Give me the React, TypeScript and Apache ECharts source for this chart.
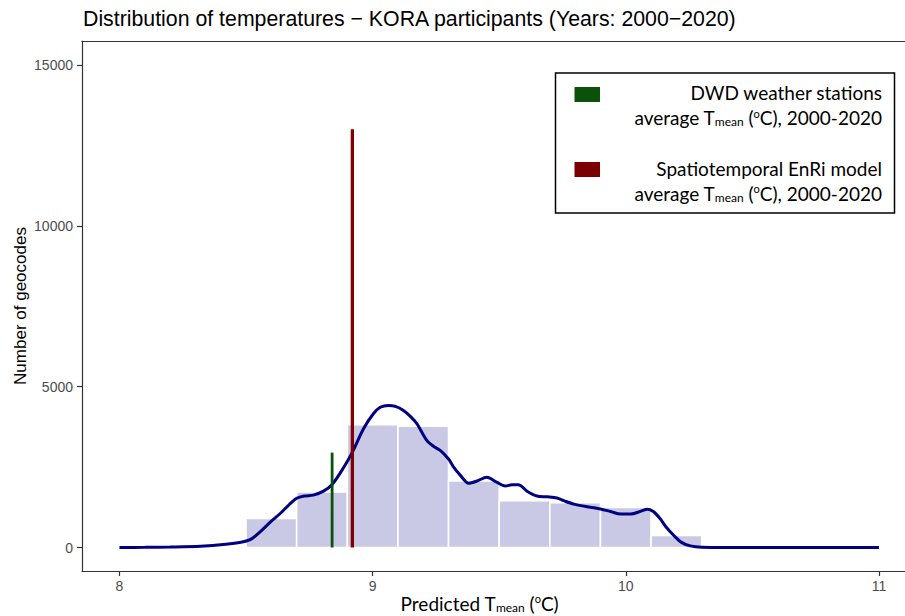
import React, { useEffect, useRef } from "react";
import * as echarts from "echarts";

// Histogram bins (lower edge, upper edge) and counts
const binStarts = [8.5, 8.7, 8.9, 9.1, 9.3, 9.5, 9.7, 9.9, 10.1];
const binWidth = 0.2;
const binCounts = [900, 1730, 3820, 3770, 2070, 1455, 1395, 1245, 375];

// Density curve (scaled to counts)
const densityX = [8.0, 8.1, 8.2, 8.32, 8.42, 8.48, 8.52, 8.56, 8.6, 8.634, 8.67, 8.7, 8.73, 8.766, 8.806, 8.84, 8.885, 8.92, 8.964, 9.003, 9.03, 9.062, 9.09, 9.122, 9.15, 9.175, 9.214, 9.24, 9.267, 9.3, 9.32, 9.346, 9.379, 9.41, 9.451, 9.49, 9.524, 9.55, 9.576, 9.61, 9.649, 9.69, 9.728, 9.76, 9.8, 9.86, 9.9, 9.94, 9.98, 10.02, 10.06, 10.085, 10.11, 10.136, 10.16, 10.189, 10.22, 10.255, 10.3, 10.4, 10.6, 10.8, 11.0];
const densityY = [0, 5, 15, 40, 100, 165, 260, 520, 820, 1050, 1330, 1530, 1600, 1630, 1752, 1960, 2479, 2965, 3692, 4159, 4360, 4418, 4390, 4262, 4070, 3848, 3329, 3150, 3018, 2750, 2500, 2250, 2000, 2060, 2187, 2030, 1910, 1950, 1955, 1750, 1600, 1575, 1540, 1440, 1340, 1254, 1200, 1120, 1040, 1040, 1130, 1190, 1110, 893, 630, 380, 160, 50, 8, 0, 0, 0, 0];

// Reference lines: [x, top]
const dwdMean = [8.84, 2950];
const enriMean = [8.92, 13000];

const xTicks = [8, 9, 10, 11];
const yTicks = [0, 5000, 10000, 15000];

const titleText = "Distribution of temperatures \u2212 KORA participants (Years: 2000\u22122020)";
const legendLabels = ["DWD weather stations", "Spatiotemporal EnRi model"];

const GREEN = "#0A520A";
const RED = "#800000";
const LEGEND_RED = "#7A0000";

export default function App() {
  const ref = useRef<HTMLDivElement>(null);
  useEffect(() => {
    if (!ref.current) return;
    const chart = echarts.init(ref.current, undefined, { renderer: "svg" });
    const xMin = 7.852, xMax = 11.103, yMin = -730, yMax = 15746;
    const richMain = { fontFamily: "Lato", fontSize: 19, lineHeight: 20, color: "#000", verticalAlign: "middle" };
    const richSub = { fontFamily: "Lato", fontSize: 12, lineHeight: 6, color: "#000", verticalAlign: "bottom" };
    const richSup = { fontFamily: "Lato", fontSize: 11, lineHeight: 10, color: "#000", verticalAlign: "top" };
    const tmeanText = "{a|average T}{s|mean}{a| (}{o|o}{a|C), 2000-2020}";
    const legendText = (text: string, y: number) => ({
      type: "text",
      x: 882,
      y,
      style: {
        text,
        rich: { a: richMain, s: richSub, o: richSup },
        align: "right",
        verticalAlign: "top",
      },
    });
    const fmt = (v: number) => String(v);
    const option: any = {
      animation: false,
      backgroundColor: "#fff",
      title: {
        text: titleText,
        left: 83,
        top: 8,
        padding: 0,
        textStyle: { fontFamily: "Liberation Sans", fontSize: 21.3, fontWeight: "normal", color: "#000" },
      },
      grid: { left: 82, right: 0, top: 41, bottom: 45, outerBoundsMode: "none", containLabel: false },
      xAxis: [
        {
          type: "value",
          min: xMin,
          max: xMax,
          splitLine: { show: false },
          axisLine: { show: true, onZero: false, lineStyle: { color: "#333", width: 1.2 } },
          axisTick: { show: true, customValues: xTicks, length: 5, lineStyle: { color: "#333", width: 1.2 } },
          axisLabel: { customValues: xTicks, formatter: fmt, color: "#4D4D4D", fontSize: 14, fontFamily: "Liberation Sans", margin: 8 },
        },
        {
          type: "value",
          position: "top",
          min: xMin,
          max: xMax,
          splitLine: { show: false },
          axisLine: { show: true, onZero: false, lineStyle: { color: "#333", width: 1.2 } },
          axisTick: { show: false },
          axisLabel: { show: false },
        },
      ],
      yAxis: {
        type: "value",
        min: yMin,
        max: yMax,
        name: "Number of geocodes",
        nameLocation: "middle",
        nameGap: 53,
        nameMoveOverlap: false,
        nameTextStyle: { fontFamily: "Liberation Sans", fontSize: 17, color: "#000" },
        splitLine: { show: false },
        axisLine: { show: true, onZero: false, lineStyle: { color: "#333", width: 1.2 } },
        axisTick: { show: true, customValues: yTicks, length: 5, lineStyle: { color: "#333", width: 1.2 } },
        axisLabel: { customValues: yTicks, formatter: fmt, color: "#4D4D4D", fontSize: 14, fontFamily: "Liberation Sans", margin: 9 },
      },
      series: [
        {
          type: "custom",
          z: 1,
          data: binStarts.map((s, i) => [s, s + binWidth, binCounts[i]]),
          encode: { x: [0, 1], y: 2 },
          renderItem: (params: any, api: any) => {
            const p0 = api.coord([api.value(0), api.value(2)]);
            const p1 = api.coord([api.value(1), 0]);
            return {
              type: "rect",
              shape: { x: p0[0], y: p0[1], width: p1[0] - p0[0], height: p1[1] - p0[1] },
              style: { fill: "#C9C9E6", stroke: "#fff", lineWidth: 1.6 },
            };
          },
        },
        {
          type: "line",
          z: 2,
          data: densityX.map((x, i) => [x, densityY[i]]),
          smooth: 0.3,
          showSymbol: false,
          lineStyle: { color: "#000080", width: 3 },
        },
        {
          type: "line",
          z: 3,
          data: [[dwdMean[0], 0], [dwdMean[0], dwdMean[1]]],
          showSymbol: false,
          lineStyle: { color: GREEN, width: 2.8, cap: "butt" },
        },
        {
          type: "line",
          z: 3,
          data: [[enriMean[0], 0], [enriMean[0], enriMean[1]]],
          showSymbol: false,
          lineStyle: { color: RED, width: 3.3, cap: "butt" },
        },
      ],
      graphic: [
        {
          type: "text",
          x: 479.5,
          y: 593,
          style: {
            text: "{a|Predicted T}{s|mean}{a| (}{o|o}{a|C)}",
            rich: { a: richMain, s: richSub, o: richSup },
            align: "center",
            verticalAlign: "top",
          },
        },
        {
          type: "rect",
          shape: { x: 555.5, y: 73, width: 339, height: 140 },
          style: { fill: "#fff", stroke: "#000", lineWidth: 1.5 },
        },
        { type: "rect", shape: { x: 574.5, y: 87, width: 25.5, height: 15 }, style: { fill: GREEN } },
        { type: "rect", shape: { x: 574.5, y: 162, width: 25.5, height: 15 }, style: { fill: LEGEND_RED } },
        legendText("{a|" + legendLabels[0] + "}", 82.5),
        legendText(tmeanText, 107.5),
        legendText("{a|" + legendLabels[1] + "}", 158.5),
        legendText(tmeanText, 183),
      ],
    };
    chart.setOption(option);
    return () => chart.dispose();
  }, []);
  return <div ref={ref} style={{ position: "fixed", left: 0, top: 0, width: 905, height: 616 }} />;
}
